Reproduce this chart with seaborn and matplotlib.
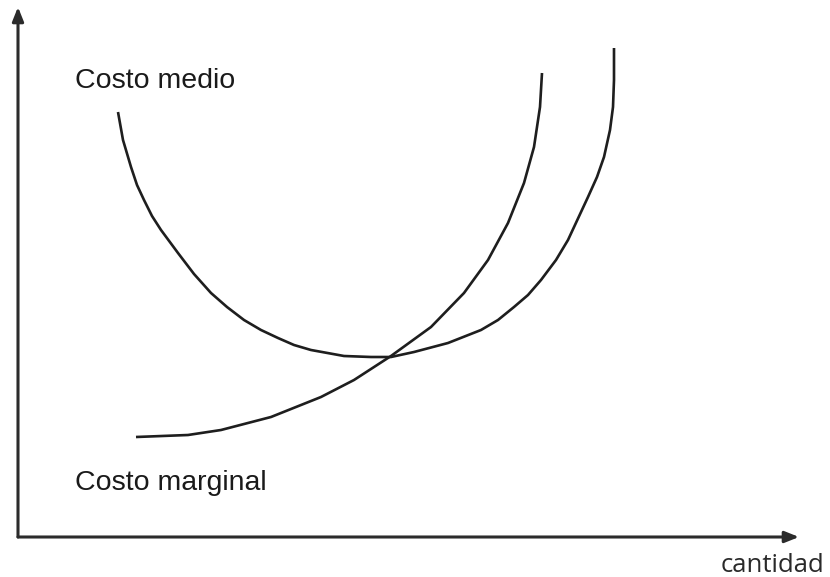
import matplotlib
matplotlib.use("Agg")
import matplotlib.pyplot as plt
import seaborn as sns
import pandas as pd

# Costo medio (U-shaped average cost curve), arbitrary units
cme_x = [100, 105, 113, 119, 126, 134, 143, 160, 176, 193, 209, 226, 243, 260, 276, 293, 326, 353, 373, 396, 430, 463, 480, 496, 510, 523, 538, 550, 570, 579, 586, 592, 595, 596, 596]
cme_y = [425, 397, 370, 352, 337, 321, 307, 284, 263, 244, 230, 217, 207, 199, 192, 187, 181, 180, 180, 185, 194, 207, 217, 230, 242, 257, 277, 297, 340, 360, 380, 407, 430, 457, 489]

# Costo marginal (marginal cost curve)
cmg_x = [118, 170, 203, 253, 273, 303, 336, 373, 413, 446, 470, 490, 498, 506, 511, 516, 519, 522, 523, 524]
cmg_y = [100, 102, 107, 120, 128, 140, 157, 181, 210, 244, 277, 314, 334, 354, 372, 390, 410, 430, 447, 464]

label_medio = "Costo medio"
label_marginal = "Costo marginal"
x_label = "cantidad"

sns.set_theme(style="white")
plt.rcParams['font.family'] = ['Liberation Sans', 'DejaVu Sans']

W, H = 830, 577
fig = plt.figure(figsize=(W / 100, H / 100), dpi=100)
ax = fig.add_axes([18 / W, (H - 537) / H, (800 - 18) / W, (537 - 6) / H])
ax.set_xlim(0, 782)
ax.set_ylim(0, 531)
ax.axis("off")

df_me = pd.DataFrame({"x": cme_x, "y": cme_y})
df_mg = pd.DataFrame({"x": cmg_x, "y": cmg_y})
line_kw = dict(color="#1e1e1e", linewidth=1.9, sort=False, estimator=None, legend=False,
               solid_joinstyle="round", solid_capstyle="butt")
sns.lineplot(data=df_me, x="x", y="y", ax=ax, **line_kw)
sns.lineplot(data=df_mg, x="x", y="y", ax=ax, **line_kw)

# axes with arrows
arrow_kw = dict(arrowstyle="-|>,head_length=0.7,head_width=0.28", color="#2b2b2b",
                linewidth=2.2, shrinkA=0, shrinkB=0)
ax.annotate("", xy=(0, 530), xytext=(0, 0), xycoords="data", textcoords="data",
            arrowprops=arrow_kw, annotation_clip=False)
ax.annotate("", xy=(781, 0), xytext=(0, 0), xycoords="data", textcoords="data",
            arrowprops=arrow_kw, annotation_clip=False)

# labels
fig.text(75 / W, 1 - 88 / H, label_medio, fontsize=20.5, color="#1a1a1a",
         ha="left", va="baseline")
fig.text(75 / W, 1 - 490 / H, label_marginal, fontsize=20.5, color="#1a1a1a",
         ha="left", va="baseline")
fig.text(824 / W, 1 - 572 / H, x_label, fontsize=18.5, color="#2a2a2a",
         ha="right", va="baseline", family=["Open Sans", "DejaVu Sans"])

fig.savefig("out.png", dpi=100, facecolor="white")
